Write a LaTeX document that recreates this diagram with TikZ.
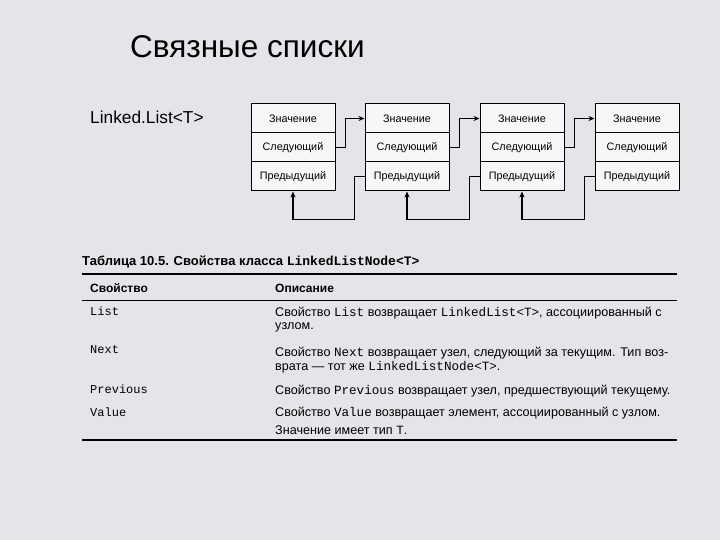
\documentclass[tikz,border=0pt]{standalone}
\usepackage{fontspec}
\setmainfont{Liberation Sans}
\setmonofont{Liberation Mono}
\usetikzlibrary{arrows.meta}
\definecolor{bg}{RGB}{229,229,233}
\begin{document}
\begin{tikzpicture}[x=1pt,y=-1pt,
  cell/.style={draw,line width=1pt,minimum width=84pt,minimum height=29pt,inner sep=0,font=\fontsize{10.8}{12}\selectfont,fill=gray!6},
  link/.style={line width=1.1pt,-{Stealth[length=6pt,width=5pt]}},
  tl/.style={anchor=west,inner sep=0,font=\fontsize{12.6}{14}\selectfont},
  tm/.style={anchor=west,inner sep=0,font=\ttfamily\fontsize{12}{14}\selectfont}]
\fill[bg] (0,0) rectangle (720,540);
\useasboundingbox (0,0) rectangle (720,540);
\node[anchor=west,inner sep=0,font=\fontsize{31.5}{35}\selectfont] (title) at (130,47) {Связные списки};
\node[anchor=west,inner sep=0,font=\fontsize{17.3}{20}\selectfont] (ll) at (90,117) {Linked.List<T>};
\foreach \i/\x in {1/293,2/407,3/522,4/637}{
  \node[cell] (v\i) at (\x,118.5) {Значение};
  \node[cell] (n\i) at (\x,147.5) {Следующий};
  \node[cell] (p\i) at (\x,176.5) {Предыдущий};
}
\foreach \a/\b in {1/2,2/3,3/4}{
  \draw[link] (n\a.east) -- ++(10,0) |- (v\b.west);
  \draw[link] (p\b.west) -- ++(-10,0) |- ([yshift=-28pt]p\a.south) -- (p\a.south);
}
\node[tl,font=\bfseries\fontsize{13}{15}\selectfont] (cap) at (82,262) {Таблица 10.5. Свойства класса \texttt{LinkedListNode<T>}};
\coordinate (l1) at (82,274); \coordinate (r1) at (677,274);
\draw[line width=1.8pt] (l1) -- (r1);
\node[tl,font=\bfseries\fontsize{12}{14}\selectfont] (h1) at (90,288) {Свойство};
\node[tl,font=\bfseries\fontsize{12}{14}\selectfont] (h2) at (275,288) {Описание};
\coordinate (l2) at (82,300); \coordinate (r2) at (677,300);
\draw[line width=0.9pt] (l2) -- (r2);
\node[tm] (k1) at (90,311) {List};
\node[tl] (d1a) at (275,313) {Свойство \texttt{List} возвращает \texttt{LinkedList<T>}, ассоциированный с};
\node[tl] (d1b) at (275,327) {узлом.};
\node[tm] (k2) at (90,350) {Next};
\node[tl] (d2a) at (275,353) {Свойство \texttt{Next} возвращает узел, следующий за текущим. Тип воз-};
\node[tl] (d2b) at (275,367) {врата — тот же \texttt{LinkedListNode<T>}.};
\node[tm] (k3) at (90,389) {Previous};
\node[tl] (d3a) at (275,391) {Свойство \texttt{Previous} возвращает узел, предшествующий текущему.};
\node[tm] (k4) at (90,412) {Value};
\node[tl] (d4a) at (275,413) {Свойство \texttt{Value} возвращает элемент, ассоциированный с узлом.};
\node[tl] (d4b) at (275,430) {Значение имеет тип \texttt{T}.};
\coordinate (l3) at (82,440); \coordinate (r3) at (677,440);
\draw[line width=1.8pt] (l3) -- (r3);
\end{tikzpicture}
\end{document}
